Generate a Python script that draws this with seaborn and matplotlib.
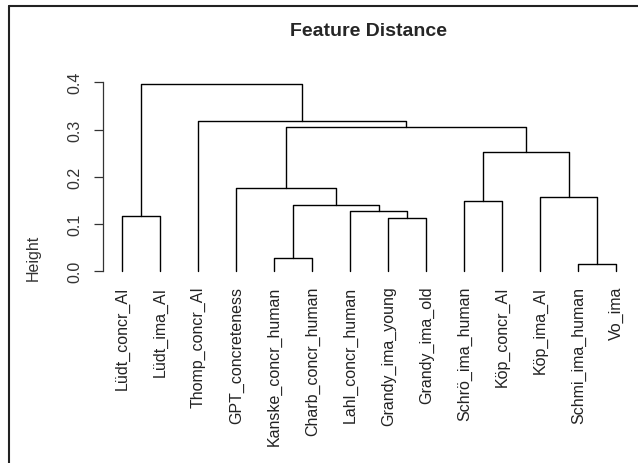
import matplotlib
matplotlib.use("Agg")
import matplotlib.pyplot as plt
from matplotlib.lines import Line2D
import numpy as np
import pandas as pd
import seaborn as sns

# Leaves in dendrogram order
leaf_labels = [
    "Lüdt_concr_AI", "Lüdt_ima_AI", "Thomp_concr_AI", "GPT_concreteness",
    "Kanske_concr_human", "Charb_concr_human", "Lahl_concr_human",
    "Grandy_ima_young", "Grandy_ima_old", "Schrö_ima_human", "Köp_concr_AI",
    "Köp_ima_AI", "Schmi_ima_human", "Vo_ima",
]

# Agglomeration steps (negative = leaf number, positive = earlier step)
merge_left = [-5, -13, -8, -1, -7, 1, -10, -12, -4, 7, 9, -3, 4]
merge_right = [-6, -14, -9, -2, 3, 5, -11, 2, 6, 8, 10, 11, 12]
merge_height = [0.029, 0.016, 0.113, 0.118, 0.127, 0.141, 0.148,
                0.157, 0.177, 0.2525, 0.305, 0.319, 0.396]

y_ticks = [0.0, 0.1, 0.2, 0.3, 0.4]
y_tick_labels = ["0.0", "0.1", "0.2", "0.3", "0.4"]

# Build the rectangular dendrogram paths
node_x, node_h = {}, {}


def position(ref):
    if ref < 0:
        return float(-ref), 0.0
    return node_x[ref], node_h[ref]


rows = []
for step, (a, b, h) in enumerate(zip(merge_left, merge_right, merge_height), start=1):
    xa, ha = position(a)
    xb, hb = position(b)
    for order, (px, py) in enumerate([(xa, ha), (xa, h), (xb, h), (xb, hb)]):
        rows.append({"x": px, "height": py, "step": step, "order": order})
    node_x[step] = (xa + xb) / 2
    node_h[step] = h
segments = pd.DataFrame(rows)

sns.set_style("white")
plt.rcParams["font.family"] = ["Liberation Sans", "DejaVu Sans"]

W, H = 638, 464
fig = plt.figure(figsize=(W / 100, H / 100), dpi=100)
left_px, right_px = 102.5, 636.0
y0_px, y4_px = 272.3, 83.3
ax = fig.add_axes([left_px / W, (H - y0_px) / H,
                   (right_px - left_px) / W, (y0_px - y4_px) / H])

sns.lineplot(data=segments, x="x", y="height", units="step", estimator=None,
             sort=False, color="black", linewidth=1.0, ax=ax, legend=False)
for ln in ax.lines:
    ln.set_clip_on(False)

n = len(leaf_labels)
ax.set_xlim(1 - 0.04 * (n - 1), n + 0.04 * (n - 1))
ax.set_ylim(0, 0.4)

for side in ["top", "right", "bottom"]:
    ax.spines[side].set_visible(False)
ax.spines["left"].set_bounds(0, 0.4)
ax.spines["left"].set_color("#333333")
ax.spines["left"].set_linewidth(0.9)

ax.set_yticks(y_ticks)
ax.set_yticklabels(y_tick_labels, rotation=90, va="center", fontsize=11.5,
                   color="#333333")
ax.tick_params(axis="y", length=6.2, width=0.9, color="#333333", pad=8.5,
               left=True)

ax.set_xticks(range(1, n + 1))
ax.set_xticklabels(leaf_labels, rotation=90, ha="center", va="top",
                   fontsize=11.5, color="#222222")
ax.tick_params(axis="x", length=0, pad=10.3)

ax.set_xlabel("")
ax.set_ylabel("")
fig.text(33 / W, 1 - 258 / H, "Height", rotation=90, ha="center", va="center",
         fontsize=11.5, color="#333333")
fig.text(368 / W, 1 - 32 / H, "Feature Distance", ha="center", va="center",
         fontsize=14, fontweight="bold")

# Outer frame
fig.add_artist(Line2D([9 / W, 9 / W], [0, 1 - 7 / H], transform=fig.transFigure,
                      color="#222222", linewidth=1.5))
fig.add_artist(Line2D([9 / W, 1], [1 - 7 / H, 1 - 7 / H], transform=fig.transFigure,
                      color="#222222", linewidth=1.5))

fig.savefig("out.png", dpi=100)
